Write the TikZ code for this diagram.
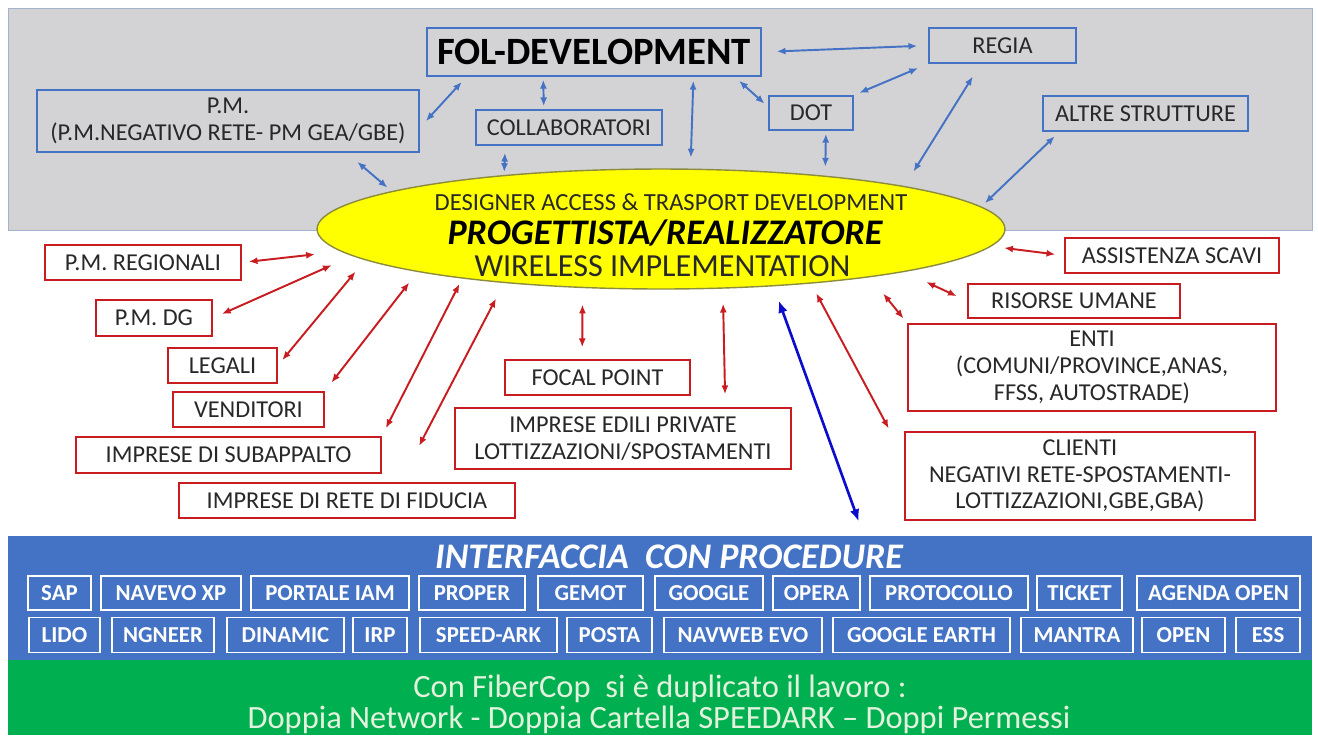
\documentclass[tikz,border=0pt]{standalone}
\usepackage{fontspec}
\setmainfont{Carlito}
\usetikzlibrary{shapes.geometric,arrows.meta}

\definecolor{panelgray}{RGB}{211,211,213}
\definecolor{paneledge}{RGB}{165,178,205}
\definecolor{linkblue}{RGB}{68,114,196}
\definecolor{linkred}{RGB}{200,28,32}
\definecolor{hubyellow}{RGB}{255,255,0}
\definecolor{hubedge}{RGB}{140,140,60}
\definecolor{bandblue}{RGB}{68,114,196}
\definecolor{bandgreen}{RGB}{0,176,80}
\definecolor{deepblue}{RGB}{12,12,205}
\definecolor{inktext}{RGB}{40,40,40}
\definecolor{notetext}{RGB}{226,242,220}

\begin{document}
\begin{tikzpicture}[
            x=0.02cm, y=-0.02cm,
            bluebox/.style={draw=linkblue, line width=0.9pt, text=inktext, align=center, inner sep=0pt,
                font=\fontsize{13.8}{14.8}\selectfont},
            redbox/.style={draw=linkred, fill=white, line width=0.9pt, text=inktext, align=center, inner sep=0pt,
                font=\fontsize{13.8}{15}\selectfont},
            hub/.style={ellipse, fill=hubyellow, draw=hubedge, line width=0.8pt, inner sep=0pt,
                minimum width=13.76cm, minimum height=2.4cm},
            band/.style={inner sep=0pt, minimum width=26.1cm},
            toolbox/.style={draw=white, line width=0.8pt, text=white, inner sep=0pt,
                font=\bfseries\fontsize{13}{14}\selectfont},
            bluelink/.style={{Latex[length=5pt,width=4pt]}-{Latex[length=5pt,width=4pt]}, draw=linkblue, line width=1.1pt},
            redlink/.style={{Latex[length=5pt,width=4pt]}-{Latex[length=5pt,width=4pt]}, draw=linkred, line width=1.1pt},
            deeplink/.style={{Latex[length=7pt,width=5.5pt]}-{Latex[length=7pt,width=5.5pt]}, draw=deepblue, line width=1.5pt},
            ]
            \useasboundingbox (0,0) rectangle (1318,735);
            \fill[white] (0,0) rectangle (1318,735);

            % upper grey panel
            \draw[fill=panelgray, draw=paneledge, line width=0.4pt] (8,8) rectangle (1312,230);

            \node[bluebox, text=black, font=\bfseries\fontsize{22}{24}\selectfont,
                minimum width=6.68cm, minimum height=0.96cm] (fol) at (594,52) {FOL-DEVELOPMENT};
            \node[bluebox, minimum width=2.94cm, minimum height=0.70cm] (regia) at (1002.5,45.5) {REGIA};
            \node[bluebox, minimum width=7.64cm, minimum height=1.24cm, font=\fontsize{13.8}{15}\selectfont] (pm) at (228,121)
                {P.M.\\(P.M.NEGATIVO RETE- PM GEA/GBE)};
            \node[bluebox, minimum width=3.72cm, minimum height=0.70cm] (collab) at (569,127.5) {COLLABORATORI};
            \node[bluebox, minimum width=1.68cm, minimum height=0.68cm] (dot) at (811,113) {DOT};
            \node[bluebox, minimum width=4.10cm, minimum height=0.70cm] (altre) at (1145.5,113.5) {ALTRE STRUTTURE};

            % central ellipse
            \node[hub] (dev) at (661,229) {};
            \node[anchor=base, text=inktext, font=\fontsize{14}{15}\selectfont] (devtop) at (671,210)
                {DESIGNER ACCESS \& TRASPORT DEVELOPMENT};
            \node[anchor=base, text=black, font=\bfseries\itshape\fontsize{20.5}{22}\selectfont] (devmid) at (665,244)
                {PROGETTISTA/REALIZZATORE};
            \node[anchor=base, text=inktext, font=\fontsize{18.3}{19}\selectfont] (devbot) at (662.5,276)
                {WIRELESS IMPLEMENTATION};

            % left side
            \node[redbox, minimum width=3.92cm, minimum height=0.70cm] (pmreg) at (143,262.5) {P.M. REGIONALI};
            \node[redbox, minimum width=2.32cm, minimum height=0.72cm] (pmdg) at (154,318) {P.M. DG};
            \node[redbox, minimum width=2.18cm, minimum height=0.70cm] (legali) at (222.5,365.5) {LEGALI};
            \node[redbox, minimum width=3.02cm, minimum height=0.70cm] (venditori) at (248.5,409.5) {VENDITORI};
            \node[redbox, minimum width=6.10cm, minimum height=0.72cm] (subapp) at (228.5,455) {IMPRESE DI SUBAPPALTO};
            \node[redbox, minimum width=6.72cm, minimum height=0.70cm] (fiducia) at (347,500.5) {IMPRESE DI RETE DI FIDUCIA};
            \node[redbox, minimum width=3.70cm, minimum height=0.70cm] (focal) at (597.5,377.5) {FOCAL POINT};
            \node[redbox, minimum width=6.72cm, minimum height=1.22cm] (edili) at (623,438.5)
                {IMPRESE EDILI PRIVATE\\LOTTIZZAZIONI/SPOSTAMENTI};

            % right side
            \node[redbox, minimum width=4.28cm, minimum height=0.70cm] (assist) at (1172,255.5) {ASSISTENZA SCAVI};
            \node[redbox, minimum width=4.24cm, minimum height=0.68cm] (risorse) at (1074,301) {RISORSE UMANE};
            \node[redbox, minimum width=7.36cm, minimum height=1.74cm, font=\fontsize{13.8}{15.2}\selectfont] (enti) at (1092,367.5)
                {ENTI\\(COMUNI/PROVINCE,ANAS,\\FFSS, AUTOSTRADE)};
            \node[redbox, minimum width=7.00cm, minimum height=1.76cm, font=\fontsize{13.8}{15.2}\selectfont] (clienti) at (1080,476)
                {CLIENTI\\NEGATIVI RETE-SPOSTAMENTI-\\LOTTIZZAZIONI,GBE,GBA)};

            % procedure band
            \node[band, fill=bandblue, minimum height=2.48cm] (iface) at (660,598) {};
            \node[text=white, font=\bfseries\itshape\fontsize{20.5}{22}\selectfont] (ifacetitle) at (669,557)
                {INTERFACCIA\ \ CON PROCEDURE};

            \node[toolbox, minimum width=1.26cm, minimum height=0.68cm] (sap) at (59.5,593) {SAP};
            \node[toolbox, minimum width=2.80cm, minimum height=0.68cm] (navevo) at (171,593) {NAVEVO XP};
            \node[toolbox, minimum width=3.16cm, minimum height=0.68cm] (portale) at (330,593) {PORTALE IAM};
            \node[toolbox, minimum width=2.12cm, minimum height=0.68cm] (proper) at (472,593) {PROPER};
            \node[toolbox, minimum width=2.10cm, minimum height=0.68cm] (gemot) at (590.5,593) {GEMOT};
            \node[toolbox, minimum width=2.16cm, minimum height=0.68cm] (google) at (709,593) {GOOGLE};
            \node[toolbox, minimum width=1.74cm, minimum height=0.68cm] (opera) at (816.5,593) {OPERA};
            \node[toolbox, minimum width=3.16cm, minimum height=0.68cm] (protocollo) at (949,593) {PROTOCOLLO};
            \node[toolbox, minimum width=1.70cm, minimum height=0.68cm] (ticket) at (1079.5,593) {TICKET};
            \node[toolbox, minimum width=3.26cm, minimum height=0.68cm] (agenda) at (1218.5,593) {AGENDA OPEN};

            \node[toolbox, minimum width=1.42cm, minimum height=0.70cm] (lido) at (64.5,635) {LIDO};
            \node[toolbox, minimum width=2.04cm, minimum height=0.70cm] (ngneer) at (163,635) {NGNEER};
            \node[toolbox, minimum width=2.34cm, minimum height=0.70cm] (dinamic) at (285.5,635) {DINAMIC};
            \node[toolbox, minimum width=1.08cm, minimum height=0.70cm] (irp) at (380,635) {IRP};
            \node[toolbox, minimum width=2.74cm, minimum height=0.70cm] (speedark) at (488.5,635) {SPEED-ARK};
            \node[toolbox, minimum width=1.70cm, minimum height=0.70cm] (posta) at (609.5,635) {POSTA};
            \node[toolbox, minimum width=3.16cm, minimum height=0.70cm] (navweb) at (743,635) {NAVWEB EVO};
            \node[toolbox, minimum width=3.54cm, minimum height=0.70cm] (gearth) at (921.5,635) {GOOGLE EARTH};
            \node[toolbox, minimum width=2.24cm, minimum height=0.70cm] (mantra) at (1077,635) {MANTRA};
            \node[toolbox, minimum width=1.66cm, minimum height=0.70cm] (open) at (1183.5,635) {OPEN};
            \node[toolbox, minimum width=1.28cm, minimum height=0.70cm] (ess) at (1268,635) {ESS};

            % fibercop note
            \node[band, fill=bandgreen, minimum height=1.5cm] (noteband) at (660,697.5) {};
            \node[anchor=base, text=notetext, font=\fontsize{18.5}{20}\selectfont] (dupline) at (660,697)
                {Con FiberCop\ \ si è duplicato il lavoro :};
            \node[anchor=base, text=notetext, font=\fontsize{18.5}{20}\selectfont] (dupnote) at (659,728)
                {Doppia Network - Doppia Cartella SPEEDARK – Doppi Permessi};

            % links inside the panel
            \draw[bluelink, shorten <=0.3cm, shorten >=0.22cm] (fol.east) -- (regia.west);
            \draw[bluelink, shorten <=0.12cm, shorten >=0.1cm] (fol.-10) -- (dot.172);
            \draw[bluelink, shorten <=0.12cm, shorten >=0.22cm] (dot.north east) -- (regia.south west);
            \draw[bluelink, shorten <=0.14cm, shorten >=0.18cm] (fol.191) -- (pm.-2);
            \draw[bluelink, shorten <=0.06cm, shorten >=0.06cm] (fol.206) -- (collab.144);
            \draw[bluelink, shorten <=0.08cm, shorten >=0.22cm] (fol.-14) -- (dev.64);
            \draw[bluelink, shorten <=0.14cm, shorten >=0.06cm] (collab.196) -- (dev.161);
            \draw[bluelink, shorten <=0.28cm, shorten >=0.11cm] (pm.-15) -- (dev.172.5);
            \draw[bluelink, shorten <=0.06cm, shorten >=0.18cm] (dot.-50) -- (dev.18);
            \draw[bluelink, shorten <=0.3cm, shorten >=0.34cm] (regia.220) -- (dev.10);
            \draw[bluelink, shorten <=0.13cm, shorten >=0.1cm] (altre.192) -- (dev.4.3);

            % links below
            \draw[redlink, shorten <=0.14cm, shorten >=0.52cm] (pmreg.east) -- (dev.184);
            \draw[redlink, shorten <=0.2cm, shorten >=0.45cm] (pmdg.east) -- (dev.185.4);
            \draw[redlink, shorten <=0.14cm, shorten >=0.3cm] (legali.east) -- (dev.186.5);
            \draw[redlink, shorten <=0.22cm, shorten >=0.27cm] (venditori.north east) -- (dev.190);
            \draw[redlink, shorten <=0.18cm, shorten >=0.12cm] (subapp.north east) -- (dev.194);
            \draw[redlink, shorten <=0.82cm, shorten >=0.35cm] (fiducia.19) -- (dev.199.4);
            \draw[redlink, shorten <=0.24cm, shorten >=0.33cm] (focal.130) -- (dev.217);
            \draw[redlink, shorten <=0.26cm, shorten >=0.3cm] (edili.17) -- (dev.-44);
            \draw[redlink, shorten <=0.18cm, shorten >=0.26cm] (assist.west) -- (dev.-3);
            \draw[redlink, shorten <=0.23cm, shorten >=0.48cm] (risorse.west) -- (dev.-10);
            \draw[redlink, shorten <=0.12cm, shorten >=0.42cm] (enti.north west) -- (dev.-13);
            \draw[redlink, shorten <=0.66cm, shorten >=0.22cm] (clienti.174) -- (dev.-20);

            \draw[deeplink, shorten <=0.3cm, shorten >=0.3cm] (dev.-27) -- (iface.17.5);
        \end{tikzpicture}
\end{document}
